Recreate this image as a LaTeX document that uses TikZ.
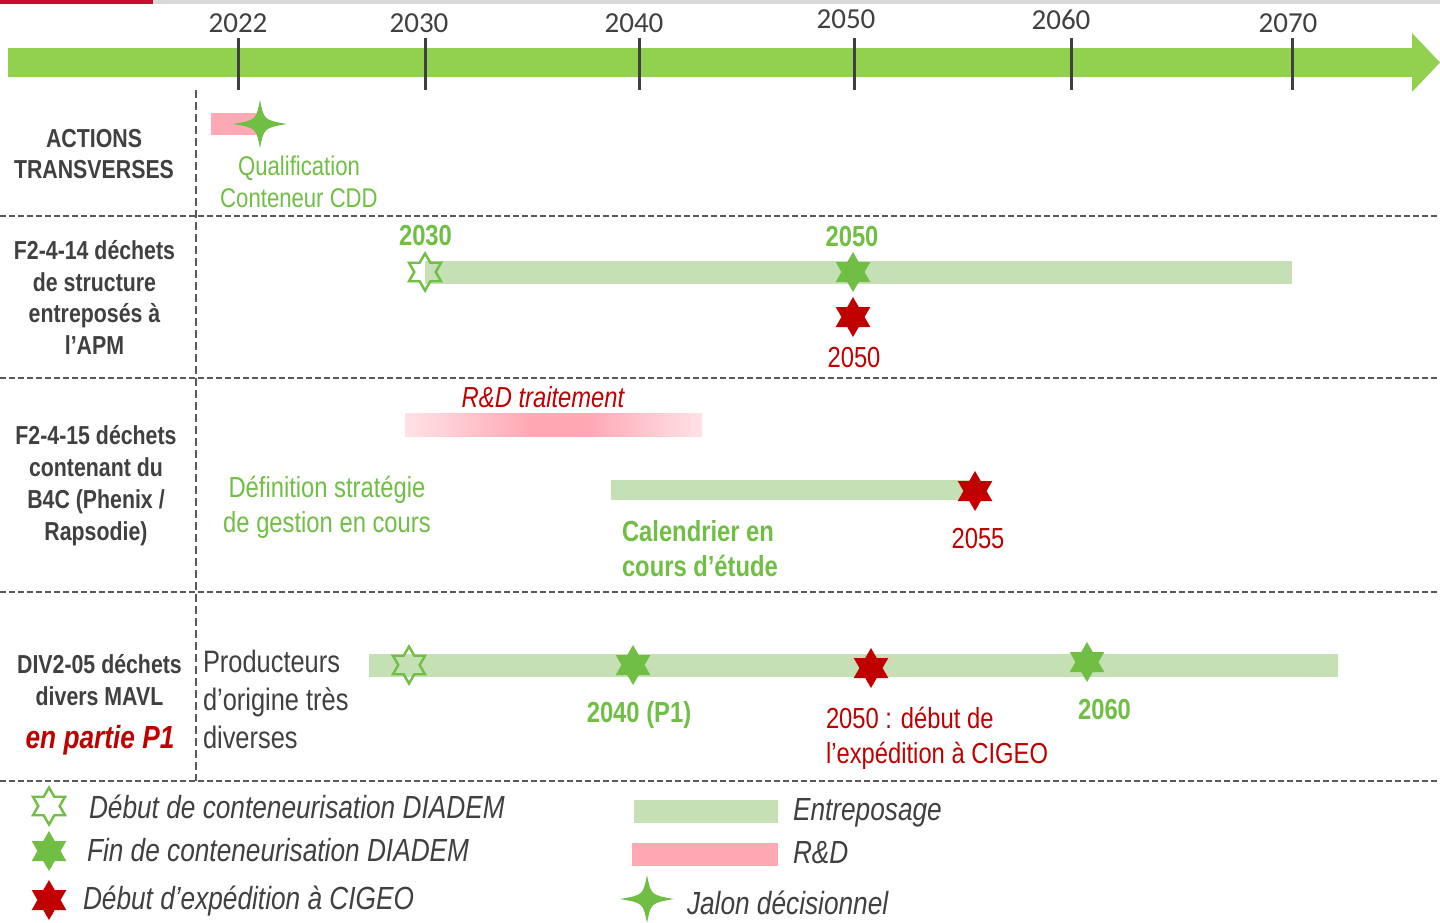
\documentclass[tikz,border=0pt]{standalone}
\usepackage{fontspec}
\usetikzlibrary{shapes.geometric}
\newfontfamily\nar{Liberation Sans}[FakeStretch=0.82]
\newfontfamily\carl{Carlito}
\definecolor{arrowgreen}{HTML}{92D050}
\definecolor{stargreen}{HTML}{70BF44}
\definecolor{bargreen}{HTML}{C5E0B4}
\definecolor{dred}{HTML}{C00000}
\definecolor{pinkM}{HTML}{FFA9B5}
\definecolor{pinkL}{HTML}{FFE2E7}
\definecolor{dgray}{HTML}{404040}
\definecolor{lgray}{HTML}{D9D9D9}
\definecolor{topred}{HTML}{C8102E}
\definecolor{dashgray}{HTML}{595959}
\pgfdeclarehorizontalshading{rdshade}{100bp}{color(0bp)=(pinkL); color(25bp)=(pinkL); color(46bp)=(pinkM); color(56bp)=(pinkM); color(75bp)=(pinkL); color(100bp)=(pinkL)}
\newcommand\jalonstar[1]{\fill[stargreen, shift={(#1)}] (27,0) .. controls (4,-4) .. (0,-24) .. controls (-4,-4) .. (-27,0) .. controls (-4,4) .. (0,24) .. controls (4,4) .. cycle;}
\tikzset{
  hexstar/.style={star, star points=6, star point ratio=1.732, minimum size=40pt, inner sep=0pt, outer sep=0pt},
  fullstar/.style={hexstar, fill=stargreen},
  redstar/.style={hexstar, fill=dred},
  hollowstar/.style={hexstar, draw=stargreen, line width=2.4pt, minimum size=37pt},
  tickmark/.style={draw=dgray, line width=3pt},
  sep/.style={draw=dashgray, line width=1.3pt, dash pattern=on 6pt off 3pt},
  vsep/.style={draw=dashgray, line width=1.5pt, dash pattern=on 8pt off 4pt},
  txt/.style={inner sep=0pt, outer sep=0pt, anchor=base},
  yr/.style={txt, font=\carl\fontsize{29}{30}\selectfont, text=dgray},
  rl/.style={txt, font=\nar\bfseries\fontsize{26}{30}\selectfont, text=dgray},
  rlred/.style={txt, font=\nar\bfseries\itshape\fontsize{32}{34}\selectfont, text=dred},
  gt/.style={txt, font=\nar\fontsize{27}{30}\selectfont, text=stargreen},
  gtm/.style={txt, font=\nar\fontsize{29}{30}\selectfont, text=stargreen},
  gtb/.style={txt, font=\nar\bfseries\fontsize{29}{30}\selectfont, text=stargreen},
  rt/.style={txt, font=\nar\fontsize{29}{30}\selectfont, text=dred},
  rti/.style={txt, font=\nar\itshape\fontsize{29}{30}\selectfont, text=dred},
  prod/.style={txt, anchor=base west, font=\nar\fontsize{31}{32}\selectfont, text=dgray},
  leg/.style={txt, anchor=base west, font=\nar\itshape\fontsize{32}{34}\selectfont, text=dgray},
}
\begin{document}
\begin{tikzpicture}[x=1pt,y=-1pt]
\useasboundingbox[fill=white] (0,0) rectangle (1440,922);
% top strip
\fill[lgray] (153,0) rectangle (1440,4);
\fill[topred] (0,0) rectangle (153,3.5);
% timeline arrow
\fill[arrowgreen] (8,48) -- (1412,48) -- (1412,33) -- (1440,62.5) -- (1412,92) -- (1412,77) -- (8,77) -- cycle;
\foreach \xx in {238,425,639,854,1071,1292} {\draw[tickmark] (\xx,38) -- (\xx,90);}
\node[yr] (y2022) at (238,32) {2022};
\node[yr] (y2030) at (419,32) {2030};
\node[yr] (y2040) at (634,32) {2040};
\node[yr] (y2050) at (846,28) {2050};
\node[yr] (y2060) at (1061,29) {2060};
\node[yr] (y2070) at (1288,32) {2070};
% separators
\foreach \yy in {216,378,592,781} {\draw[sep] (0,\yy) -- (1440,\yy);}
\draw[vsep] (196,90) -- (196,781);
% row labels
\node[rl] (l1a) at (94,147) {ACTIONS};
\node[rl] (l1b) at (94,178) {TRANSVERSES};
\node[rl] (l2a) at (94.5,259) {F2-4-14 déchets};
\node[rl] (l2b) at (94.5,291) {de structure};
\node[rl] (l2c) at (94.5,322) {entreposés à};
\node[rl] (l2d) at (94.5,354) {l’APM};
\node[rl] (l3a) at (96,444) {F2-4-15 déchets};
\node[rl] (l3b) at (96,476) {contenant du};
\node[rl] (l3c) at (96,508) {B4C (Phenix /};
\node[rl] (l3d) at (96,540) {Rapsodie)};
\node[rl] (l4a) at (99.5,673) {DIV2-05 déchets};
\node[rl] (l4b) at (99.5,705) {divers MAVL};
\node[rlred] (l4c) at (100,748) {en partie P1};
% row 1
\fill[pinkM] (211,113) rectangle (260,135);
\coordinate (j1) at (260,124);
\jalonstar{j1}
\node[gt] (q1) at (299,175) {Qualification};
\node[gt] (q2) at (299,207) {Conteneur CDD};
% row 2
\fill[bargreen] (425,261) rectangle (1292,284);
\node[hollowstar] (s2a) at (425,272) {};
\node[fullstar] (s2b) at (853,272) {};
\node[redstar] (s2c) at (853,317) {};
\node[gtb] (t2a) at (425.5,245) {2030};
\node[gtb] (t2b) at (852,246) {2050};
\node[rt] (t2c) at (854,367) {2050};
% row 3
\node[rti] (rd) at (543,407) {R\&D traitement};
\shade[shading=rdshade] (405,413) rectangle (702,436);
\fill[bargreen] (611,480) rectangle (975,500);
\node[redstar] (s3) at (975,491) {};
\node[rt] (t3) at (978,548) {2055};
\node[gtm] (d1) at (327,497) {Définition stratégie};
\node[gtm] (d2) at (327,532) {de gestion en cours};
\node[gtb, anchor=base west] (c1) at (622,541) {Calendrier en};
\node[gtb, anchor=base west] (c2) at (622,576) {cours d’étude};
% row 4
\node[prod] (p1) at (203,672) {Producteurs};
\node[prod] (p2) at (203,710) {d’origine très};
\node[prod] (p3) at (203,748) {diverses};
\fill[bargreen] (369,654) rectangle (1338,677);
\node[hollowstar] (s4a) at (409,665) {};
\node[fullstar] (s4b) at (633,665) {};
\node[redstar] (s4c) at (871,668) {};
\node[fullstar] (s4d) at (1087,662) {};
\node[gtb] (t4a) at (639,722) {2040 (P1)};
\node[gtb] (t4d) at (1104.5,719) {2060};
\node[rt, anchor=base west] (t4c1) at (826,728) {2050 : début de};
\node[rt, anchor=base west] (t4c2) at (826,763) {l’expédition à CIGEO};
% legend
\node[hollowstar] (ls1) at (49,806) {};
\node[fullstar] (ls2) at (49,851) {};
\node[redstar] (ls3) at (49,900) {};
\node[leg] (lt1) at (89,818) {Début de conteneurisation DIADEM};
\node[leg] (lt2) at (87,861) {Fin de conteneurisation DIADEM};
\node[leg] (lt3) at (83,909) {Début d’expédition à CIGEO};
\fill[bargreen] (634,800) rectangle (778,823);
\fill[pinkM] (632,843) rectangle (778,866);
\coordinate (j2) at (647,899);
\jalonstar{j2}
\node[leg] (lt4) at (793,820) {Entreposage};
\node[leg] (lt5) at (793,863) {R\&D};
\node[leg] (lt6) at (687,914) {Jalon décisionnel};
\end{tikzpicture}
\end{document}
